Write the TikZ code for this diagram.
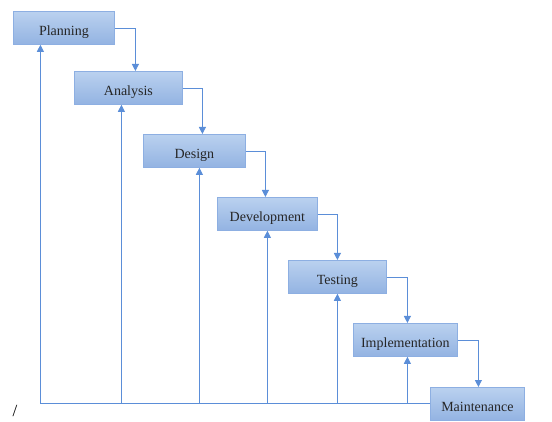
\documentclass[tikz,border=0pt]{standalone}
\usepackage{fontspec}
\setmainfont{Liberation Serif}
\usetikzlibrary{arrows.meta,calc}
\definecolor{lineblue}{HTML}{5B8ED8}
\definecolor{boxtop}{HTML}{BAD1EF}
\definecolor{boxbot}{HTML}{93B3E2}
\definecolor{boxedge}{HTML}{8DAFE2}
\tikzset{
  phase/.style={draw=boxedge, line width=0.8pt, top color=boxtop, bottom color=boxbot,
    anchor=north west, inner xsep=0pt, inner ysep=0pt, text height=24.5pt, text depth=8.5pt,
    font=\fontsize{14}{16}\selectfont, text=black!85},
  flow/.style={draw=lineblue, line width=0.9pt, -{Triangle[length=7pt,width=7pt]}},
  plain/.style={draw=lineblue, line width=0.9pt}
}
\begin{document}
\begin{tikzpicture}[x=1pt,y=-1pt]
\useasboundingbox (0,0) rectangle (552,422);
\node[phase, minimum width=101pt] (P) at (13,11) {Planning};
\node[phase, minimum width=108pt] (A) at (74,71) {Analysis};
\node[phase, minimum width=102pt] (D) at (143,134) {Design};
\node[phase, minimum width=100pt] (V) at (217,197) {Development};
\node[phase, minimum width=98pt] (T) at (288,260) {Testing};
\node[phase, minimum width=104pt] (I) at (353,323) {Implementation};
\node[phase, minimum width=94pt] (M) at (430,387) {Maintenance};
\node[font=\fontsize{17}{19}\selectfont, inner sep=0pt] (slash) at (15,411) {/};
% forward flow
\draw[flow] ([yshift=-1pt]P.east) -| ([xshift=7pt]A.north);
\draw[flow] ([yshift=-1pt]A.east) -| ([xshift=8pt]D.north);
\draw[flow] ([yshift=-1pt]D.east) -| ([xshift=-2pt]V.north);
\draw[flow] ([yshift=-1pt]V.east) -| (T.north);
\draw[flow] ([yshift=-1pt]T.east) -| ([xshift=2pt]I.north);
\draw[flow] ([yshift=-1pt]I.east) -| ([xshift=1pt]M.north);
% feedback
\coordinate (corner) at ([xshift=-23.5pt]P.south |- M.west);
\draw[plain] (M.west) -- (corner);
\draw[flow] (corner) -- ([xshift=-23.5pt]P.south);
\draw[flow] ([xshift=-7pt]A.south |- M.west) -- ([xshift=-7pt]A.south);
\draw[flow] ([xshift=5pt]D.south |- M.west) -- ([xshift=5pt]D.south);
\draw[flow] (V.south |- M.west) -- (V.south);
\draw[flow] (T.south |- M.west) -- (T.south);
\draw[flow] ([xshift=2pt]I.south |- M.west) -- ([xshift=2pt]I.south);
\end{tikzpicture}
\end{document}
